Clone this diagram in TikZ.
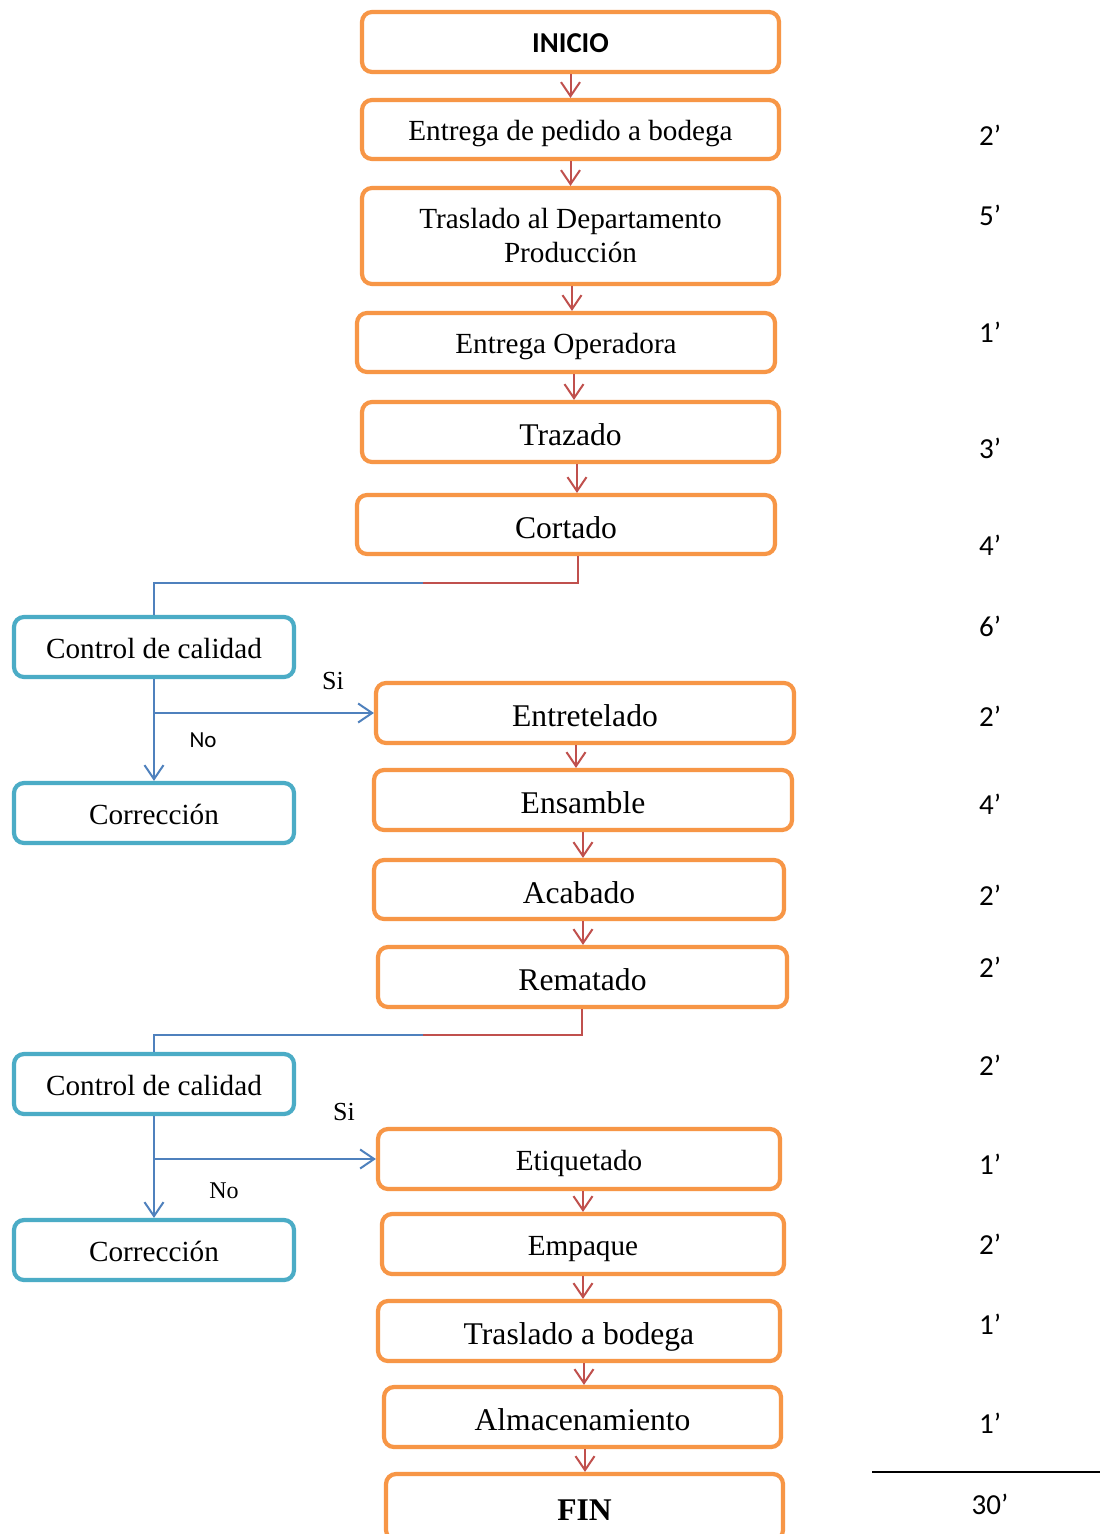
\documentclass[tikz,border=0pt]{standalone}
\usepackage{fontspec}
\setmainfont{Liberation Serif}
\newfontfamily\calfont{Carlito}
\usetikzlibrary{arrows.meta}
\definecolor{orng}{HTML}{F79646}
\definecolor{teal2}{HTML}{4BACC6}
\definecolor{redc}{HTML}{C0504D}
\definecolor{bluec}{HTML}{4F81BD}
\begin{document}
\begin{tikzpicture}[x=0.5pt,y=-0.5pt,
  obox/.style={draw=orng, line width=2.1pt, rounded corners=5pt, fill=white, align=center, inner sep=0pt, font=\fontsize{15.8}{18}\selectfont, text height=13.6pt, text depth=0pt},
  osmall/.style={obox, font=\fontsize{14.6}{17}\selectfont, text height=11pt, text depth=0pt},
  omulti/.style={obox, font=\fontsize{14.6}{17}\selectfont, text height=, text depth=},
  tbox/.style={draw=teal2, line width=2.1pt, rounded corners=5pt, fill=white, align=center, inner sep=0pt, minimum width=140pt, minimum height=30pt, font=\fontsize{14.6}{17}\selectfont, text height=11pt, text depth=0pt},
  rarr/.style={draw=redc, line width=1pt, -{Straight Barb[length=7pt,width=9.5pt]}},
  barr/.style={draw=bluec, line width=1pt, -{Straight Barb[length=7pt,width=9.5pt]}},
  rline/.style={draw=redc, line width=0.75pt},
  bline/.style={draw=bluec, line width=0.75pt},
  tnum/.style={font=\calfont\fontsize{14.5}{17}\selectfont, inner sep=0pt},
  lblserif/.style={font=\fontsize{13}{15}\selectfont, inner sep=0pt},
  lblsans/.style={font=\calfont\fontsize{11.5}{14}\selectfont, inner sep=0pt}
]
\useasboundingbox (0,0) rectangle (1100,1534);
\fill[white] (0,0) rectangle (1100,1534);

% main column
\node[osmall, minimum width=208.5pt, minimum height=30pt, font=\calfont\bfseries\fontsize{14.4}{17}\selectfont] (inicio) at (570.5,42) {INICIO};
\node[osmall, minimum width=208.5pt, minimum height=29.5pt] (pedido) at (570.5,129.5) {Entrega de pedido a bodega};
\node[omulti, minimum width=208.5pt, minimum height=48pt] (traslado) at (570.5,236) {Traslado al Departamento\\Producción};
\node[osmall, minimum width=209pt, minimum height=29.5pt] (operadora) at (566,342.5) {Entrega Operadora};
\node[obox, minimum width=208.5pt, minimum height=30pt] (trazado) at (570.5,432) {Trazado};
\node[obox, minimum width=209pt, minimum height=29.5pt] (cortado) at (566,524.5) {Cortado};

\node[tbox] (ctrl1) at (154,647) {Control de calidad};
\node[tbox] (corr1) at (154,813) {Corrección};

\node[obox, minimum width=209pt, minimum height=30pt] (entre) at (585,713) {Entretelado};
\node[obox, minimum width=209pt, minimum height=30pt] (ensamble) at (583,800) {Ensamble};
\node[obox, minimum width=205pt, minimum height=29.5pt] (acabado) at (579,889.5) {Acabado};
\node[obox, minimum width=204.5pt, minimum height=30pt] (rematado) at (582.5,977) {Rematado};

\node[tbox] (ctrl2) at (154,1084) {Control de calidad};
\node[tbox] (corr2) at (154,1250) {Corrección};

\node[osmall, minimum width=201pt, minimum height=30pt] (etiq) at (579,1159) {Etiquetado};
\node[osmall, minimum width=201pt, minimum height=30pt] (empaque) at (583,1244) {Empaque};
\node[obox, minimum width=201pt, minimum height=30pt] (trasbod) at (579,1331) {Traslado a bodega};
\node[obox, minimum width=198.5pt, minimum height=30pt] (almac) at (582.5,1417) {Almacenamiento};
\node[obox, minimum width=198.5pt, minimum height=33pt, font=\bfseries\fontsize{15.8}{18}\selectfont] (fin) at (584.5,1507) {FIN};

% arrow x positions
\coordinate (xa) at (572,0);
\coordinate (xb) at (574,0);
\coordinate (xc) at (577,0);
\coordinate (xd) at (576,0);
\coordinate (xe) at (583,0);
\coordinate (xf) at (584,0);
\coordinate (xg) at (585,0);

% red arrows
\draw[rarr] (inicio.south) -- (inicio.south |- pedido.north);
\draw[rarr] (pedido.south) -- (pedido.south |- traslado.north);
\draw[rarr] (traslado.south -| xa) -- (operadora.north -| xa);
\draw[rarr] (operadora.south -| xb) -- (trazado.north -| xb);
\draw[rarr] (trazado.south -| xc) -- (cortado.north -| xc);
\draw[rarr] (entre.south -| xd) -- (ensamble.north -| xd);
\draw[rarr] (ensamble.south -| xe) -- (acabado.north -| xe);
\draw[rarr] (acabado.south -| xe) -- (rematado.north -| xe);
\draw[rarr] (etiq.south -| xe) -- (empaque.north -| xe);
\draw[rarr] (empaque.south -| xe) -- (trasbod.north -| xe);
\draw[rarr] (trasbod.south -| xf) -- (almac.north -| xf);
\draw[rarr] (almac.south -| xg) -- (fin.north -| xg);

% connectors to quality control
\coordinate (k1) at (578,583);
\coordinate (k1m) at (423,583);
\draw[rline] (cortado.south -| k1) -- (k1) -- (k1m);
\draw[bline] (k1m) -- (ctrl1.north |- k1m) -- (ctrl1.north);
\draw[barr] (ctrl1.south) -- (corr1.north);
\draw[barr] (ctrl1.south |- entre.west) -- (entre.west);
\node[lblserif] (si1) at (333,681) {Si};
\node[lblsans] (no1) at (203,740) {No};

\coordinate (k2) at (582,1035);
\coordinate (k2m) at (423,1035);
\draw[rline] (rematado.south -| k2) -- (k2) -- (k2m);
\draw[bline] (k2m) -- (ctrl2.north |- k2m) -- (ctrl2.north);
\draw[barr] (ctrl2.south) -- (corr2.north);
\draw[barr] (ctrl2.south |- etiq.west) -- (etiq.west);
\node[lblserif] (si2) at (344,1112) {Si};
\node[lblserif, font=\fontsize{12}{14}\selectfont] (no2) at (224,1191) {No};

% times
\node[tnum] (t1) at (990,135) {2’};
\node[tnum] (t2) at (990,215) {5’};
\node[tnum] (t3) at (990,332) {1’};
\node[tnum] (t4) at (990,448) {3’};
\node[tnum] (t5) at (990,545) {4’};
\node[tnum] (t6) at (990,626) {6’};
\node[tnum] (t7) at (990,716) {2’};
\node[tnum] (t8) at (990,804) {4’};
\node[tnum] (t9) at (990,895) {2’};
\node[tnum] (t10) at (990,967) {2’};
\node[tnum] (t11) at (990,1065) {2’};
\node[tnum] (t12) at (990,1164) {1’};
\node[tnum] (t13) at (990,1244) {2’};
\node[tnum] (t14) at (990,1324) {1’};
\node[tnum] (t15) at (990,1423) {1’};
\coordinate (ta) at (872,1472);
\coordinate (tb) at (1100,1472);
\draw[black, line width=1pt] (ta) -- (tb);
\node[tnum] (tot) at (990,1504) {30’};
\end{tikzpicture}
\end{document}
